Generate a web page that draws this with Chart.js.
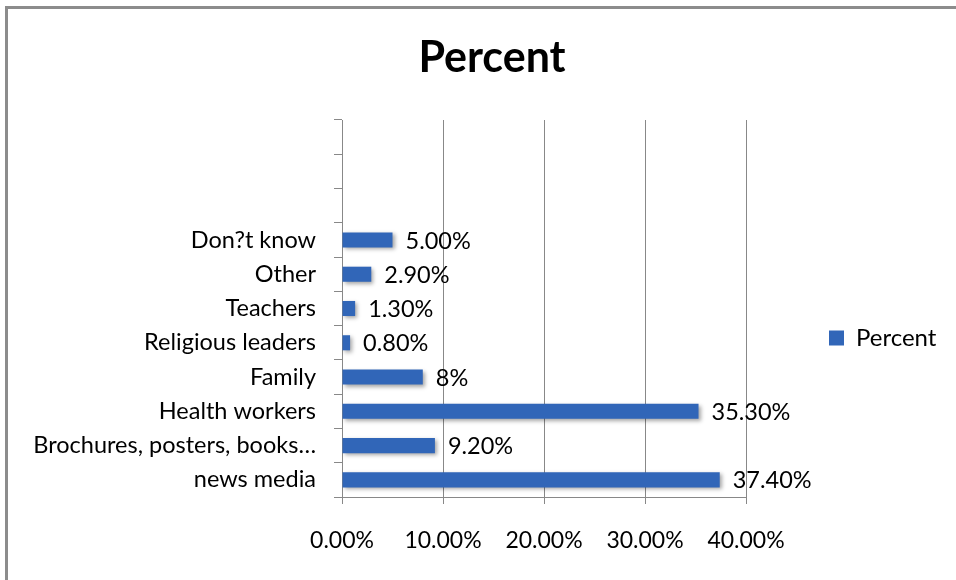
<!DOCTYPE html>
<html>
<head>
<meta charset="utf-8">
<script src="https://cdn.jsdelivr.net/npm/chart.js@4"></script>
<style>
  html, body { margin: 0; padding: 0; width: 956px; height: 580px; overflow: hidden; background: #fff; }
  #frame { position: absolute; left: 5px; top: 6px; width: 980px; height: 600px;
           border-left: 3px solid #8c8c8c; border-top: 3px solid #8c8c8c; }
  #wrap { position: absolute; left: 8px; top: 9px; width: 968px; height: 571px; }
</style>
</head>
<body>
<div id="frame"></div>
<div id="wrap"><canvas id="c" width="968" height="571"></canvas></div>
<script>
// ---- data ----
const categories = ['', '', '', 'Don?t know', 'Other', 'Teachers', 'Religious leaders', 'Family',
                    'Health workers', 'Brochures, posters, books…', 'news media'];
const percentValues = [null, null, null, 5.0, 2.9, 1.3, 0.8, 8, 35.3, 9.2, 37.4];
const valueLabels = ['', '', '', '5.00%', '2.90%', '1.30%', '0.80%', '8%', '35.30%', '9.20%', '37.40%'];
const xTickValues = [0, 10, 20, 30, 40];
const xTickLabels = ['0.00%', '10.00%', '20.00%', '30.00%', '40.00%'];
const seriesName = 'Percent';
const chartTitle = 'Percent';

// ---- target geometry (canvas coordinates) ----
const AREA = { left: 334, right: 738, top: 111, bottom: 488 };
const LEGEND_BOX = { x: 821, cy: 329 };

Chart.defaults.font.family = 'Lato';
Chart.defaults.color = '#000';

const barShadow = {
  id: 'barShadow',
  beforeDatasetDraw(chart) {
    const ctx = chart.ctx;
    ctx.save();
    ctx.shadowColor = 'rgba(0,0,0,0.35)';
    ctx.shadowBlur = 4;
    ctx.shadowOffsetX = 2;
    ctx.shadowOffsetY = 2;
  },
  afterDatasetDraw(chart) { chart.ctx.restore(); }
};

const valueLabelPlugin = {
  id: 'valueLabels',
  afterDatasetsDraw(chart) {
    const ctx = chart.ctx;
    const meta = chart.getDatasetMeta(0);
    ctx.save();
    ctx.font = '23.5px Lato';
    ctx.fillStyle = '#000';
    ctx.textAlign = 'left';
    ctx.textBaseline = 'middle';
    meta.data.forEach((bar, i) => {
      if (percentValues[i] == null) return;
      ctx.fillText(valueLabels[i], bar.x + 13, bar.y + 1);
    });
    ctx.restore();
  }
};

const placeBlocks = {
  id: 'placeBlocks',
  afterLayout(chart) {
    const lg = chart.legend;
    if (lg) {
      const pad = lg.options.labels.padding;
      const w = lg.right - lg.left, h = lg.bottom - lg.top;
      lg.left = LEGEND_BOX.x - pad; lg.right = lg.left + w;
      lg.top = LEGEND_BOX.cy - h / 2; lg.bottom = lg.top + h;
    }
    const tb = chart.titleBlock;
    if (tb) { tb.left = 0; tb.right = chart.width; tb.width = chart.width; }
  }
};

const chart = new Chart(document.getElementById('c'), {
  type: 'bar',
  data: {
    labels: categories,
    datasets: [{
      label: seriesName,
      data: percentValues,
      backgroundColor: '#3166B8',
      borderWidth: 0,
      categoryPercentage: 1,
      barPercentage: 0.44
    }]
  },
  options: {
    indexAxis: 'y',
    responsive: false,
    animation: false,
    layout: { padding: { left: 0, right: 100, top: 0, bottom: 0 } },
    plugins: {
      title: {
        display: true,
        text: chartTitle,
        font: { size: 43, weight: 'bold', lineHeight: 1.2 },
        color: '#000',
        padding: { top: 23, bottom: 20 }
      },
      legend: {
        display: true,
        position: 'right',
        labels: { boxWidth: 15, boxHeight: 15, padding: 10, font: { size: 24 }, color: '#000' }
      },
      tooltip: { enabled: false }
    },
    scales: {
      x: {
        min: 0, max: 40,
        afterBuildTicks(scale) { scale.ticks = xTickValues.map(v => ({ value: v })); },
        ticks: {
          padding: 23,
          font: { size: 23 },
          color: '#000',
          callback(v) { return xTickLabels[xTickValues.indexOf(v)]; }
        },
        grid: { color: '#888888', lineWidth: 1, tickLength: 7, drawOnChartArea: true },
        border: { display: true, color: '#888888' },
        afterFit(scale) { scale.height = 571 - AREA.bottom; }
      },
      y: {
        ticks: { autoSkip: false, padding: 18, font: { size: 23.5 }, color: '#000' },
        grid: { display: true, offset: true, drawOnChartArea: false, tickLength: 8, color: '#888888' },
        border: { display: true, color: '#888888' },
        afterFit(scale) { scale.width = AREA.left; }
      }
    }
  },
  plugins: [barShadow, valueLabelPlugin, placeBlocks]
});

// second pass: pin the plot area to the reference geometry
const ca = chart.chartArea;
chart.options.layout.padding.right += (ca.right - AREA.right);
chart.options.plugins.title.padding.bottom += (AREA.top - ca.top);
chart.update('none');
</script>
</body>
</html>
